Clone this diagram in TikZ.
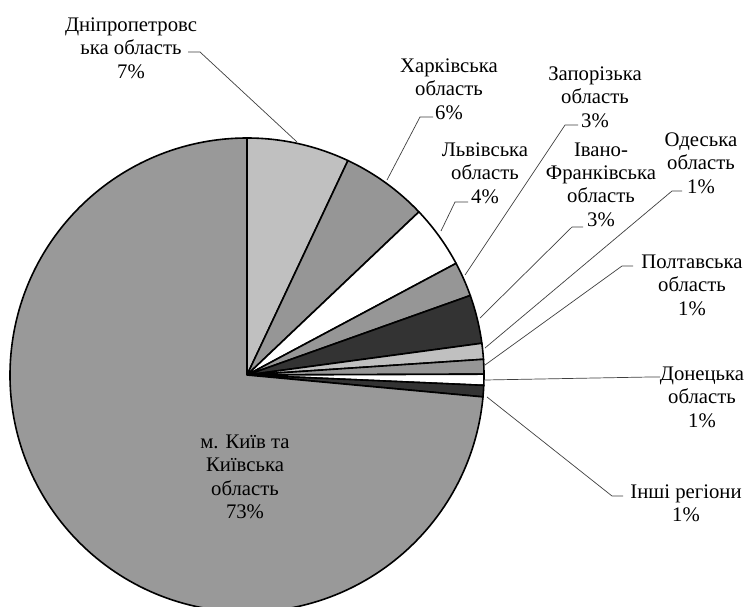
\documentclass[tikz,border=0pt]{standalone}
\usepackage{fontspec}
\setmainfont{Liberation Serif}
\begin{document}
\begin{tikzpicture}[x=1bp,y=1bp,
  lbl/.style={align=center,inner sep=0pt,font=\fontsize{20.8}{23.5}\selectfont},
  leader/.style={draw=black!75,line width=0.7bp},
  slicestyle/.style={draw=black,line width=1.6bp,line join=round}]
\useasboundingbox (0,0) rectangle (746,-607);
\clip (0,0) rectangle (746,-607);
\fill[white] (0,0) rectangle (746,-607);
\definecolor{lg}{RGB}{192,192,192}
\definecolor{mg}{RGB}{150,150,150}
\definecolor{kg}{RGB}{153,153,153}
\definecolor{dg}{RGB}{51,51,51}
\coordinate (C) at (247,-375);
\newcommand\pieslice[3]{\filldraw[slicestyle,fill=#3] (C) -- ++(#1:237) arc[start angle=#1,end angle=#2,radius=237] -- cycle;}
\pieslice{90}{64.8}{lg}
\pieslice{64.8}{43.5}{mg}
\pieslice{43.5}{28.1}{white}
\pieslice{28.1}{19.6}{mg}
\pieslice{19.6}{7.7}{dg}
\pieslice{7.7}{3.8}{lg}
\pieslice{3.8}{0.2}{mg}
\pieslice{0.2}{-2.5}{white}
\pieslice{-2.5}{-5.3}{dg}
\pieslice{-5.3}{-270}{kg}

% labels
\node[lbl] (dn) at (131,-48) {Дніпропетровс\\ька область\\7\%};
\node[lbl] (kh) at (449,-89) {Харківська\\область\\6\%};
\node[lbl] (lv) at (485,-173) {Львівська\\область\\4\%};
\node[lbl] (zp) at (595,-97) {Запорізька\\область\\3\%};
\node[lbl] (if) at (601,-184.5) {Івано-\\Франківська\\область\\3\%};
\node[lbl] (od) at (701,-163) {Одеська\\область\\1\%};
\node[lbl] (pl) at (692,-285) {Полтавська\\область\\1\%};
\node[lbl] (dc) at (702,-397) {Донецька\\область\\1\%};
\node[lbl] (ot) at (686,-503.5) {Інші регіони\\1\%};
\node[lbl] (kv) at (245,-477) {м. Київ та\\Київська\\область\\73\%};

% leader coordinates
\coordinate (dn-a) at (188,-52);  \coordinate (dn-b) at (200,-52);  \coordinate (dn-p) at (297,-142);
\coordinate (kh-a) at (433,-117); \coordinate (kh-b) at (420,-117); \coordinate (kh-p) at (387,-180);
\coordinate (lv-a) at (468,-202); \coordinate (lv-b) at (455,-202); \coordinate (lv-p) at (441,-231);
\coordinate (zp-a) at (578,-125); \coordinate (zp-b) at (565,-125); \coordinate (zp-p) at (465,-275);
\coordinate (if-a) at (583,-227); \coordinate (if-b) at (572,-227); \coordinate (if-p) at (480,-318);
\coordinate (od-a) at (682,-191); \coordinate (od-b) at (672,-191); \coordinate (od-p) at (485,-348);
\coordinate (pl-a) at (633,-266); \coordinate (pl-b) at (622,-266); \coordinate (pl-p) at (485,-365);
\coordinate (dc-a) at (660,-377); \coordinate (dc-b) at (650,-377); \coordinate (dc-p) at (485,-380);
\coordinate (ot-a) at (623,-496); \coordinate (ot-b) at (612,-496); \coordinate (ot-p) at (487,-397);

\foreach \k in {dn,kh,lv,zp,if,od,pl,dc,ot}{
  \draw[leader] (\k-a) -- (\k-b) -- (\k-p);
}
\end{tikzpicture}
\end{document}
